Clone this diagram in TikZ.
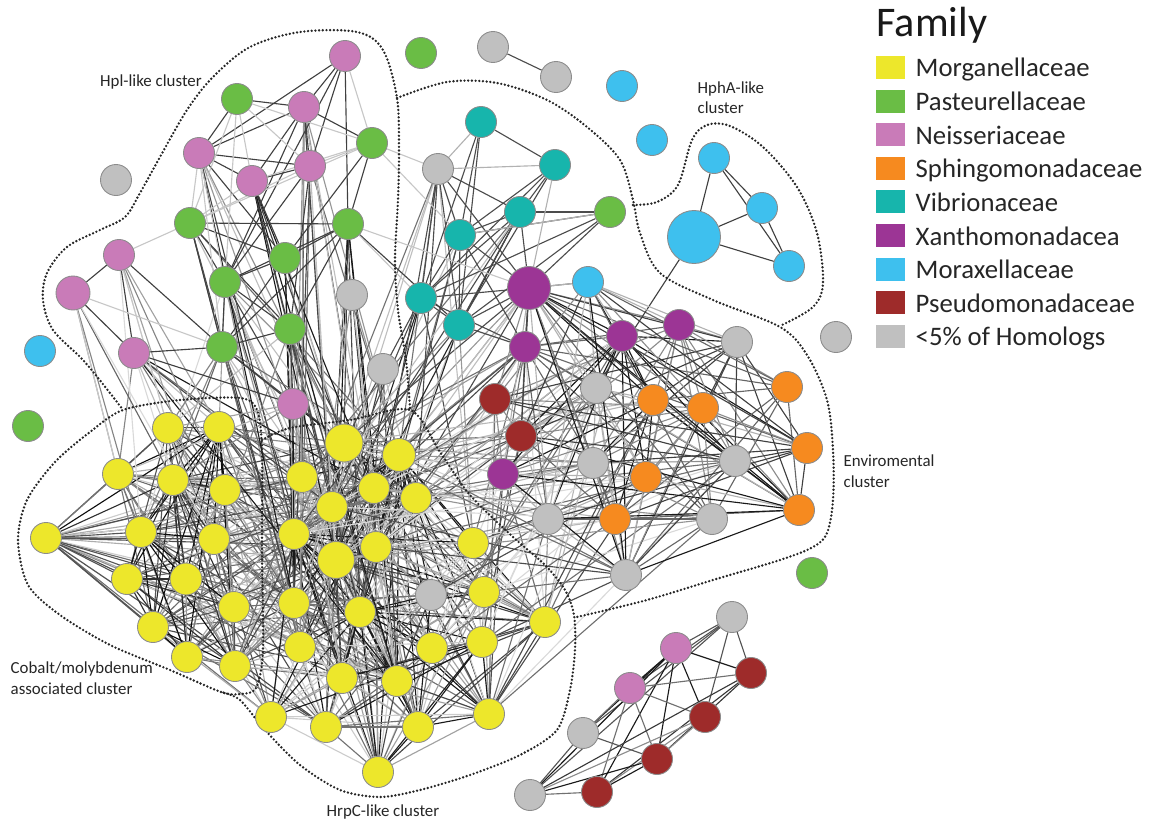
\documentclass[tikz,border=0pt]{standalone}
\usepackage{fontspec}
\setmainfont{Carlito}
\usetikzlibrary{backgrounds}
\definecolor{cMo}{HTML}{EDE72B}
\definecolor{cPa}{HTML}{6ABD45}
\definecolor{cNe}{HTML}{C97BB8}
\definecolor{cSp}{HTML}{F68A1F}
\definecolor{cVi}{HTML}{17B5AC}
\definecolor{cXa}{HTML}{9C3595}
\definecolor{cMx}{HTML}{3EC0EE}
\definecolor{cPs}{HTML}{9E2B2A}
\definecolor{cRa}{HTML}{C0C0C0}
\tikzset{
  nd/.style={circle,draw=black!45,line width=0.25pt,minimum size=0.31cm,inner sep=0pt},
  mor/.style={nd,fill=cMo}, pas/.style={nd,fill=cPa}, nei/.style={nd,fill=cNe},
  sph/.style={nd,fill=cSp}, vib/.style={nd,fill=cVi}, xan/.style={nd,fill=cXa},
  mox/.style={nd,fill=cMx}, pse/.style={nd,fill=cPs}, rare/.style={nd,fill=cRa},
  link/.style={line width=0.32pt},
  hull/.style={draw=black!85,line width=0.75pt,dash pattern=on 0pt off 1.05pt,line cap=round},
  legbox/.style={minimum width=0.29cm,minimum height=0.23cm,inner sep=0pt},
  legtext/.style={anchor=base west,inner sep=0pt,font=\fontsize{7.6}{9}\selectfont,text=black!85},
  tag/.style={inner sep=0pt,align=left,font=\fontsize{4.8}{5.8}\selectfont,text=black!85}
}
% every pair of a node list, thinned by a fixed hash
\newcommand{\linkclique}[4]{%
  \foreach \na [count=\ia] in {#1} {
    \foreach \nb [count=\ib] in {#1} {
      \ifnum\ib>\ia
        \pgfmathtruncatemacro\hit{mod(3*\ia*\ia+7*\ib*\ib+3*\ia*\ib+5*\ia+11*\ib,10)}
        \ifnum\hit<#2
          \pgfmathtruncatemacro\pc{#3+(#4-#3)*mod(\ia*7+\ib*5,5)/4}
          \draw[link,draw=black!\pc] (\na) -- (\nb);
        \fi
      \fi
    }
  }
}
% pairs between two node lists
\newcommand{\linkcross}[5]{%
  \foreach \na [count=\ia] in {#1} {
    \foreach \nb [count=\ib] in {#2} {
      \pgfmathtruncatemacro\hit{mod(7*\ia*\ia+3*\ib*\ib+\ia*\ib+3*\ia+13*\ib,10)}
      \ifnum\hit<#3
        \pgfmathtruncatemacro\pc{#4+(#5-#4)*mod(\ia*3+\ib*7,5)/4}
        \draw[link,draw=black!\pc] (\na) -- (\nb);
      \fi
    }
  }
}

\begin{document}
\begin{tikzpicture}[x=0.01cm,y=-0.01cm]
  \useasboundingbox (0,0) rectangle (1163,824);

  % Morganellaceae
  \foreach \n/\x/\y/\sz in {y1/168/428/.31, y2/219/427/.31, y3/344/443/.38, y4/399/455/.33,
      y5/118/474/.31, y6/173/480/.31, y7/225/490/.31, y8/302/477/.31, y9/374/488/.31,
      y10/416/498/.31, y11/332/507/.31, y12/46/538/.31, y13/141/532/.31, y14/214/539/.31,
      y15/294/534/.31, y16/376/547/.31, y17/336/560/.37, y18/473/543/.31, y19/127/579/.31,
      y20/186/579/.32, y21/234/607/.31, y22/294/603/.31, y23/360/612/.31, y24/484/592/.31,
      y25/545/622/.31, y26/153/627/.31, y27/300/647/.31, y28/432/648/.31, y29/482/642/.31,
      y30/187/657/.31, y31/235/666/.31, y32/342/678/.31, y33/397/681/.31, y34/271/717/.31,
      y35/326/727/.31, y36/418/727/.31, y37/489/714/.31, y38/378/772/.31}
    \node[mor,minimum size=\sz cm] (\n) at (\x,\y) {};
  % <5% of homologs
  \foreach \n/\x/\y in {k1/493/47, k2/556/77, k3/116/180, k4/836/337, k5/352/295, k6/383/369,
      k7/438/169, k8/737/342, k9/596/388, k10/593/463, k11/735/461, k12/548/519, k13/712/519,
      k14/626/575, k15/431/595, k16/732/617, k17/583/733, k18/530/795}
    \node[rare] (\n) at (\x,\y) {};
  % Pasteurellaceae
  \foreach \n/\x/\y in {g1/421/53, g2/237/99, g3/372/143, g4/190/223, g5/348/224, g6/285/258,
      g7/225/282, g8/290/329, g9/222/347, g10/610/212, g11/28/426, g12/812/573}
    \node[pas] (\n) at (\x,\y) {};
  % Neisseriaceae
  \foreach \n/\x/\y in {p1/345/56, p2/304/107, p3/199/153, p4/310/166, p5/252/181, p6/119/255,
      p8/134/353, p9/293/404, p10/676/648, p11/630/688}
    \node[nei] (\n) at (\x,\y) {};
  \node[nei,minimum size=.34cm] (p7) at (73,293) {};
  % Vibrionaceae
  \foreach \n/\x/\y in {t1/481/122, t2/555/165, t3/520/212, t4/460/235, t5/421/298, t6/459/325}
    \node[vib] (\n) at (\x,\y) {};
  % Xanthomonadacea
  \node[xan,minimum size=.43cm] (m1) at (529,288) {};
  \foreach \n/\x/\y in {m2/525/347, m3/622/336, m4/679/325, m5/503/474}
    \node[xan] (\n) at (\x,\y) {};
  % Moraxellaceae
  \foreach \n/\x/\y in {b1/622/86, b2/652/140, b3/714/158, b4/762/208, b6/789/266, b7/588/282, b8/40/351}
    \node[mox] (\n) at (\x,\y) {};
  \node[mox,minimum size=.53cm] (b5) at (694,237) {};
  % Sphingomonadaceae
  \foreach \n/\x/\y in {o1/787/387, o2/653/400, o3/703/408, o4/807/448, o5/646/477, o6/615/519, o7/799/510}
    \node[sph] (\n) at (\x,\y) {};
  % Pseudomonadaceae
  \foreach \n/\x/\y in {r1/495/399, r2/521/436, r3/751/673, r4/705/717, r5/657/759, r6/597/792}
    \node[pse] (\n) at (\x,\y) {};

  \begin{scope}[on background layer]
    % dense yellow core
    \linkcross{y1,y2,y5,y6,y7,y12,y13,y14,y19,y20,y21,y26,y30,y31}{y3,y4,y8,y9,y10,y11,y15,y16,y17,y22,y23,y27,y32,y33,y34,y35}{5}{20}{70}
    \linkclique{y3,y4,y8,y9,y10,y11,y15,y16,y17,y18,y22,y23,y24,y25,y27,y28,y29,y32,y33,y34,y35,y36,y37,y38,k15}{7}{20}{90}
    \linkclique{y1,y2,y5,y6,y7,y12,y13,y14,y19,y20,y21,y26,y30,y31}{9}{40}{95}
    % upper groups into the core
    \linkcross{g4,g5,g6,g7,g8,g9,p8,p9,k5,k6,p4,p5,p3,p2}{y3,y4,y8,y9,y10,y11,y15,y16,y17,y22,y23,y27,y32,y33}{4}{25}{90}
    \linkcross{g7,g9,g8,p8,p9,p6,p7}{y1,y2,y5,y6,y7,y13,y14}{3}{15}{60}
    \linkcross{t4,t5,t6,m1,m2,k7,t3}{y3,y4,y8,y9,y10,y11,y15,y16,y17,y23,y18}{4}{25}{85}
    \linkcross{r1,r2,m5,k9,k10,k12,m2,o5,o6,k11,k13,k14,o2,m3}{y4,y9,y10,y16,y18,y24,y25,y28,y29,y37,y3,y17,y15,y11,k15}{3}{15}{70}
    % environmental group
    \linkclique{m2,m3,m4,k8,k9,o1,o2,o3,o4,o5,o6,o7,k10,k11,k12,k13,k14,r1,r2,m5,b7,m1}{6}{30}{90}
    % lone pair and the small groups
    \draw[link,draw=black!70] (k1) -- (k2);
    \foreach \a/\b in {b3/b4, b3/b6, b3/b5, b4/b5, b4/b6, b5/b6, b5/k9}
      \draw[link,draw=black!75] (\a) -- (\b);
    \linkclique{k16,p10,p11,r3,r4,k17,r5,r6,k18}{8}{45}{90}
    % Vibrio group
    \foreach \a/\b in {t1/t2, t1/t4, t1/t5, t1/t6, t2/t3, t2/t4, t2/t5, t2/t6, t3/t4, t3/t5,
        t3/t6, t3/g10, t4/t5, t4/t6, t4/g10, t5/t6, k7/t3, k7/t4, k7/t5, k7/t6, k7/m1,
        t3/m1, t4/m1, t5/m1, t6/m1, g10/m1, g10/t5, g10/t6, t6/m2, t5/m2, t4/m2, m1/m2}
      \draw[link,draw=black!70] (\a) -- (\b);
    \foreach \a/\b in {t2/m1, k7/t2, t1/k7, g10/t4, b7/m1, b7/m3, b7/m4, b7/k8}
      \draw[link,draw=black!30] (\a) -- (\b);
    % Hpl group
    \foreach \a/\b in {p1/p2, p1/p3, p1/p4, p1/g7, p1/g5, p2/p3, p2/p4, p2/p5, p2/g3, p2/g2,
        p2/g7, p3/p4, p3/p5, p3/g6, p3/g2, p5/p4, p5/g6, p4/g7, p4/g8, g3/g5, g4/g5, g4/g6,
        g4/g7, g4/g9, g4/g8, g5/g6, g5/g7, g5/g8, g5/g9, g6/g7, g6/g9, g7/g8, g7/g9, g8/g9,
        p6/p7, p6/p8, p7/p8, p6/g9, p8/g9, p8/p9, g9/p9, g8/p9, g5/t6, g3/g6}
      \draw[link,draw=black!75] (\a) -- (\b);
    \foreach \a/\b in {g2/g3, g2/p5, g2/p4, g2/g4, g2/g7, p3/g4, p3/g9, p3/g7, p4/g3, p1/g3,
        g3/g4, g3/p5, g4/p5, g4/p4, g3/k7, g5/t5, g3/t4, p7/g9, p6/g4, p7/y5, p6/y1, g5/m1}
      \draw[link,draw=black!22] (\a) -- (\b);

    % cluster outlines
    \draw[hull] plot[smooth,tension=0.55] coordinates {(410,408)(406,360)(398,310)(395,260)
      (398,200)(399,150)(397,98)(383,50)(357,32)(300,32)(250,47)(213,77)(187,110)(160,157)
      (140,193)(125,217)(100,230)(67,247)(47,273)(43,300)(53,330)(83,360)(110,393)(123,410)};
    \draw[hull] plot[smooth cycle,tension=0.5] coordinates {(123,410)(180,400)(240,398)(257,410)
      (262,450)(262,550)(263,650)(256,688)(240,694)(221,692)(170,670)(110,645)(60,615)(28,585)
      (18,540)(27,500)(55,462)(90,432)};
    \draw[hull] plot[smooth,tension=0.5] coordinates {(262,440)(290,428)(350,420)(410,410)
      (440,452)(470,495)(513,537)(545,565)(565,590)(574,615)(575,650)(570,690)(557,730)(520,755)
      (470,775)(420,790)(380,797)(340,790)(300,765)(265,730)(240,700)(221,692)};
    \draw[hull] plot[smooth,tension=0.55] coordinates {(397,98)(447,82)(497,83)(547,100)(587,127)
      (620,160)(633,200)(640,233)(660,273)(713,300)(780,327)(807,355)(827,400)(833,450)(833,500)
      (827,533)(813,547)(780,560)(713,580)(647,600)(577,617)};
    \draw[hull] plot[smooth,tension=0.55] coordinates {(633,205)(657,202)(678,185)(692,140)
      (707,125)(730,126)(763,147)(797,187)(817,233)(823,283)(813,307)(782,325)};
  \end{scope}

  % cluster names
  \node[tag] (tHpl) at (151,82) {Hpl-like cluster};
  \node[tag,anchor=west] (tHph) at (697,98) {HphA-like\\cluster};
  \node[tag,anchor=west] (tEnv) at (843,471) {Enviromental\\cluster};
  \node[tag,anchor=west] (tCob) at (10,678) {Cobalt/molybdenum\\associated cluster};
  \node[tag] (tHrp) at (383,812) {HrpC-like cluster};

  % legend
  \node[anchor=base west,inner sep=0pt,font=\fontsize{12}{14}\selectfont,text=black!90] (lgHead) at (876,37) {Family};
  \foreach \col/\name [count=\i] in {cMo/Morganellaceae, cPa/Pasteurellaceae, cNe/Neisseriaceae,
      cSp/Sphingomonadaceae, cVi/Vibrionaceae, cXa/Xanthomonadacea, cMx/Moraxellaceae,
      cPs/Pseudomonadaceae, cRa/<5\% of Homologs} {
    \node[legbox,fill=\col] (lg\i) at (890.5,{67.5+33.6*(\i-1)}) {};
    \node[legtext] (lt\i) at (915,{77+33.6*(\i-1)}) {\name};
  }
\end{tikzpicture}
\end{document}
